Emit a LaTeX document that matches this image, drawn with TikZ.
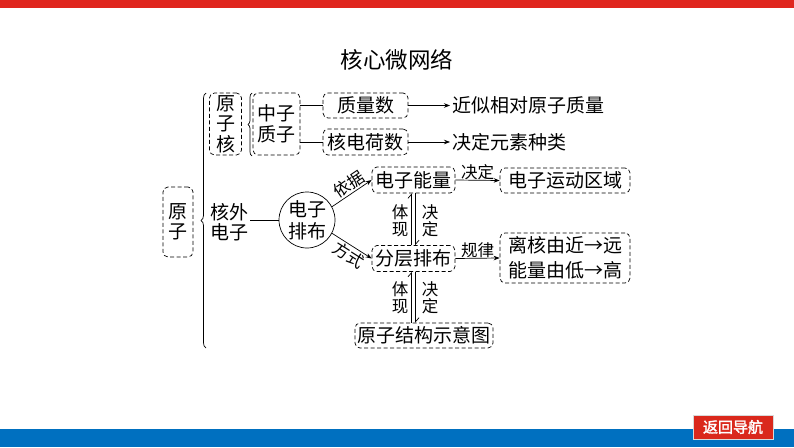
\documentclass[tikz,border=0pt]{standalone}
\usepackage{fontspec}
\setmainfont{Noto Sans CJK SC}
\newfontfamily\btnfont[FakeBold=2]{Noto Sans CJK SC}
\usetikzlibrary{arrows.meta,decorations.pathreplacing}
\definecolor{topred}{RGB}{224,38,30}
\definecolor{barblue}{RGB}{0,112,192}
\definecolor{btnred}{RGB}{218,40,28}
\begin{document}
\begin{tikzpicture}[x=1pt,y=-1pt,
  font=\fontsize{19}{20.5}\selectfont,
  dbox/.style={draw, dash pattern=on 4pt off 2.5pt, rounded corners=5pt, line width=0.7pt, inner sep=0pt, minimum height=26pt},
  lbl/.style={font=\fontsize{16.5}{17}\selectfont, inner sep=1pt},
  arr/.style={-{Stealth[length=6pt,width=4.5pt]}, line width=0.7pt},
  harp/.style={-{Straight Barb[harpoon,length=4pt,width=7pt]}, line width=0.7pt},
  plain/.style={line width=0.7pt},
  txt/.style={inner sep=2pt}
]
\useasboundingbox (0,0) rectangle (794,447);
% bars
\fill[topred] (0,0) rectangle (794,7.5);
\fill[barblue] (0,429) rectangle (794,447);
\node[fill=btnred, draw=black!15, line width=1pt, minimum width=80pt, minimum height=24pt, inner sep=0pt, text=white, font=\btnfont\fontsize{15}{15}\selectfont] (btn) at (733,427) {返回导航};
% title
\node[font=\fontsize{22.5}{23}\selectfont] (title) at (397,60) {核心微网络};
% left part
\node[dbox, minimum width=30pt, minimum height=70pt, align=center] (yz) at (178,222) {原\\子};
\draw[plain, decorate, decoration={brace, amplitude=5pt}] (206,348) -- (206,93);
\node[dbox, minimum width=32pt, minimum height=62pt, align=center] (yzh) at (225.5,124) {原\\子\\核};
\draw[plain, decorate, decoration={brace, amplitude=4pt}] (252,156) -- (252,93);
\node[dbox, minimum width=47pt, minimum height=62pt, align=center] (zz) at (276.5,124) {中子\\质子};
\node[dbox, minimum width=85pt, minimum height=25pt] (zls) at (365.5,105.5) {质量数};
\node[dbox, minimum width=85pt] (hdh) at (365.5,142) {核电荷数};
\node[txt, anchor=west] (jsz) at (450,105.5) {近似相对原子质量};
\node[txt, anchor=west] (jdys) at (450,142) {决定元素种类};
\draw[plain] (zz.east |- zls.west) -- (zls.west);
\draw[plain] (zz.east |- hdh.west) -- (hdh.west);
\draw[arr] (zls.east) -- (jsz.west);
\draw[arr] (hdh.east) -- (jdys.west);
% electrons
\node[txt, align=center] (hw) at (229,222) {核外\\电子};
\node[circle, draw, line width=0.7pt, minimum size=56pt, inner sep=0pt, align=center, font=\fontsize{19}{22}\selectfont] (pb) at (307,220) {电子\\排布};
\draw[plain] (hw.east |- pb.west) -- (pb.west);
\node[dbox, minimum width=83pt] (nl) at (413.5,180) {电子能量};
\node[dbox, minimum width=83pt] (fc) at (413.5,258.5) {分层排布};
\node[dbox, minimum width=130pt, minimum height=25pt] (qy) at (565,180.5) {电子运动区域};
\node[dbox, minimum width=130pt, minimum height=50pt, align=center, font=\fontsize{19}{25}\selectfont] (gl) at (565,258) {离核由近→远\\能量由低→高};
\node[dbox, minimum width=138pt, minimum height=25pt] (sy) at (424,335.5) {原子结构示意图};
\draw[arr] (pb.28) -- (nl.west) node[pos=0.55, sloped, above, lbl] (yj) {依据};
\draw[arr] (pb.-28) -- (fc.west) node[pos=0.55, sloped, below, lbl] (fs) {方式};
\draw[arr] (nl.east) -- (qy.west) node[midway, above, lbl, yshift=-1pt] (jd0) {决定};
\draw[arr] (fc.east) -- (gl.west) node[midway, above, lbl, yshift=-1pt] (gll) {规律};
% double lines
\draw[harp] ([xshift=-2pt]fc.north) -- ([xshift=-2pt]nl.south);
\draw[harp] ([xshift=2pt]nl.south) -- ([xshift=2pt]fc.north);
\node[lbl, align=center] (tx1) at (400,221) {体\\现};
\node[lbl, align=center] (jd1) at (430,221) {决\\定};
\draw[harp] ([xshift=-2pt]fc.south |- sy.north) -- ([xshift=-2pt]fc.south);
\draw[harp] ([xshift=2pt]fc.south) -- ([xshift=2pt]fc.south |- sy.north);
\node[lbl, align=center] (tx2) at (400,298) {体\\现};
\node[lbl, align=center] (jd2) at (430,298) {决\\定};
\end{tikzpicture}
\end{document}
